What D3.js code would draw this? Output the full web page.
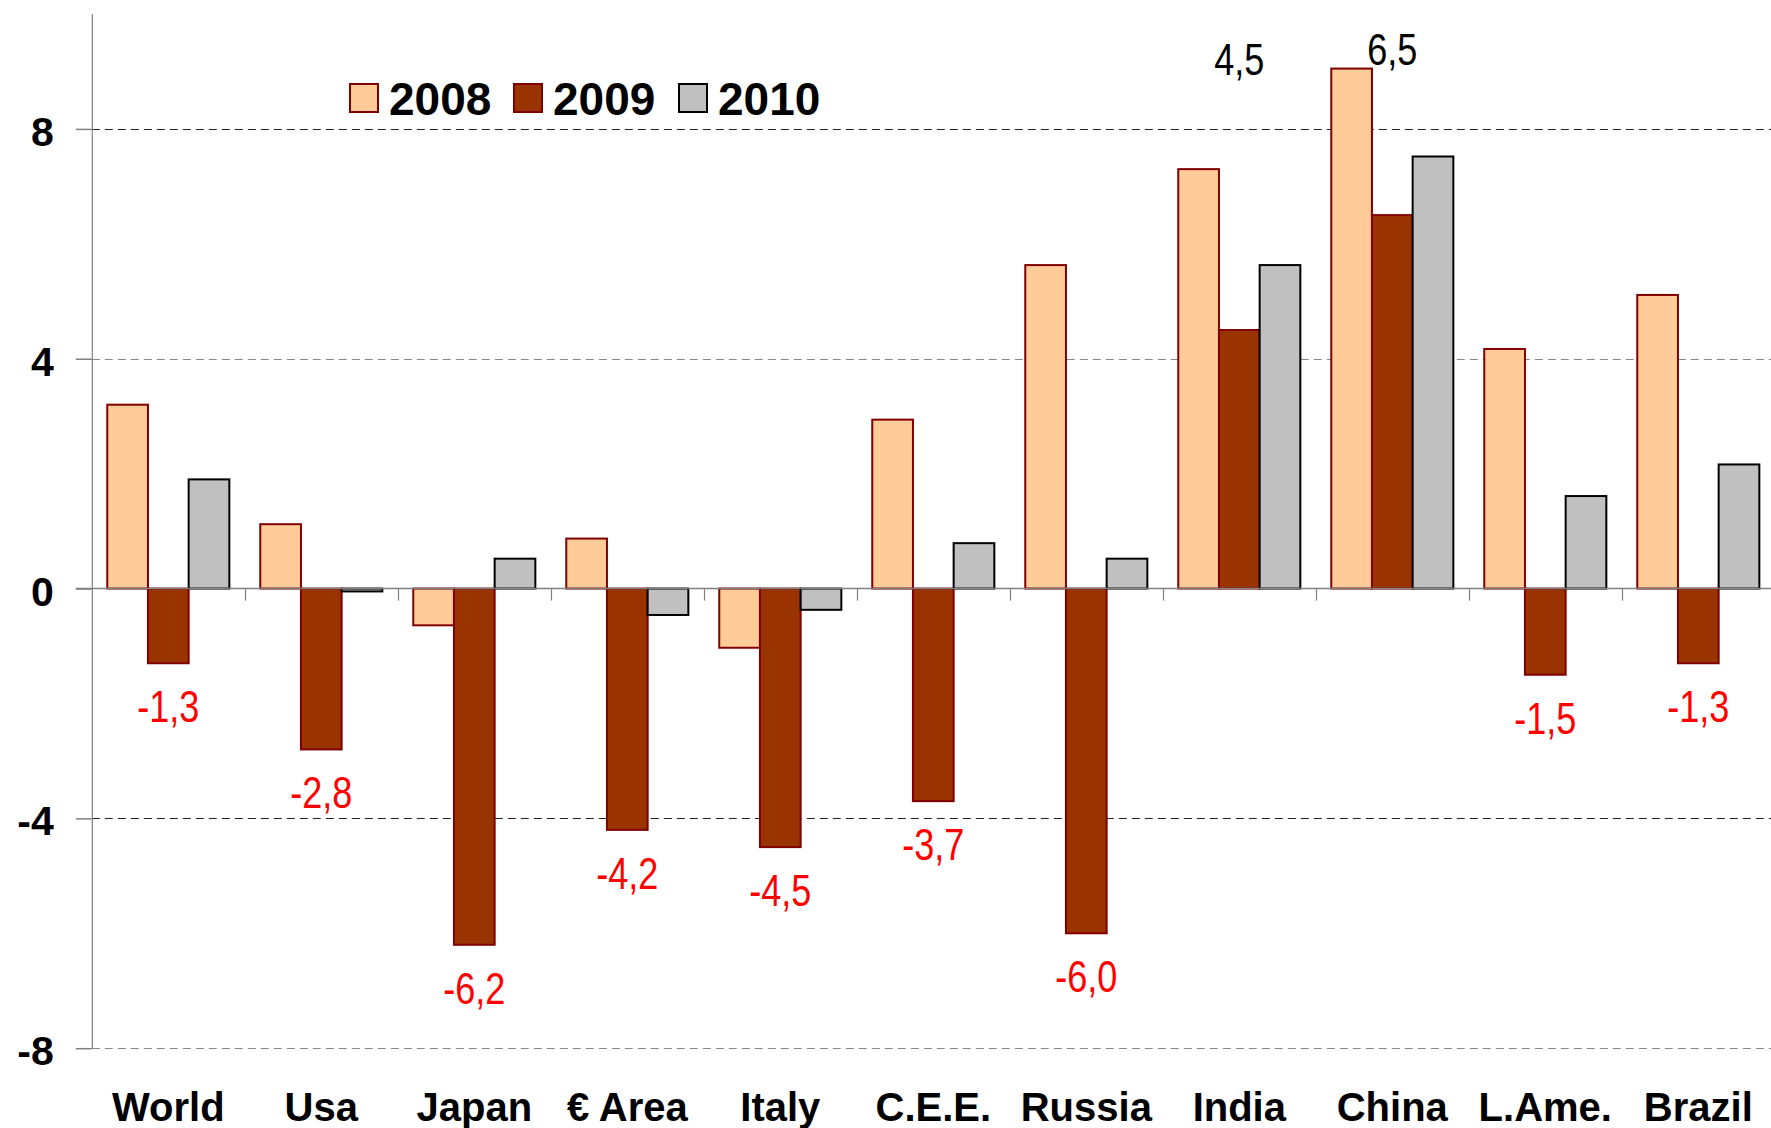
<!DOCTYPE html>
<html>
<head>
<meta charset="utf-8">
<script src="https://cdn.jsdelivr.net/npm/d3@7"></script>
<style>
  html, body { margin: 0; padding: 0; background: #fff; overflow: hidden; }
  svg { display: block; }
</style>
</head>
<body>
<svg id="chart" width="1771" height="1128"></svg>
<script>
// ---- Data ----
const categories = ["World", "Usa", "Japan", "€ Area", "Italy", "C.E.E.", "Russia", "India", "China", "L.Ame.", "Brazil"];
const seriesNames = ["2008", "2009", "2010"];
const values2008 = [3.2, 1.12, -0.64, 0.87, -1.03, 2.94, 5.63, 7.3, 9.05, 4.17, 5.11];
const values2009 = [-1.3, -2.8, -6.2, -4.2, -4.5, -3.7, -6.0, 4.5, 6.5, -1.5, -1.3];
const values2010 = [1.9, -0.05, 0.52, -0.46, -0.37, 0.79, 0.52, 5.63, 7.52, 1.61, 2.16];
const yTicks = [-8, -4, 0, 4, 8];

(function () {
// ---- Setup ----
const svg = d3.select("#chart");
const W = 1771, H = 1128;
const mLeft = 91.8, mTop = 14, mBottom = 1048.2;
const step = 153;

const x0 = d3.scaleBand().domain(categories).range([mLeft, mLeft + step * categories.length]).paddingInner(0).paddingOuter(0);
const x1 = d3.scaleBand().domain(seriesNames).range([0, x0.bandwidth()]).paddingInner(0).paddingOuter(0.38);
const y = d3.scaleLinear().domain([-8, 10]).range([mBottom, mTop]);

const seriesData = { "2008": values2008, "2009": values2009, "2010": values2010 };
const fills = { "2008": "#FFCC99", "2009": "#993300", "2010": "#C0C0C0" };
const strokes = { "2008": "#800000", "2009": "#800000", "2010": "#000000" };

// Font check for narrow font
function hasFont(name) {
  const t1 = svg.append("text").attr("font-family", `"${name}", monospace`).attr("font-size", 40).text("-1,3 4,5 6,5 abcdef");
  const t2 = svg.append("text").attr("font-family", `monospace`).attr("font-size", 40).text("-1,3 4,5 6,5 abcdef");
  const w1 = t1.node().getComputedTextLength(), w2 = t2.node().getComputedTextLength();
  t1.remove(); t2.remove();
  return Math.abs(w1 - w2) > 0.5;
}
const narrowOK = hasFont("Liberation Sans Narrow");
const narrowFamily = narrowOK ? '"Liberation Sans Narrow"' : '"Liberation Sans", Arial, sans-serif';
const narrowScale = narrowOK ? 1 : 0.82;

// ---- Gridlines ----
const gridColor = { "8": "#222", "4": "#888", "-4": "#222", "-8": "#888" };
svg.append("g").selectAll("line").data(yTicks.filter(d => d !== 0)).join("line")
  .attr("x1", mLeft).attr("x2", W)
  .attr("y1", d => Math.round(y(d)) + 0.5).attr("y2", d => Math.round(y(d)) + 0.5)
  .attr("stroke", d => gridColor[String(d)])
  .attr("stroke-width", 1)
  .attr("stroke-dasharray", "8,5");

// ---- Y axis ----
const yAxis = d3.axisLeft(y).tickValues(yTicks).tickSize(16).tickFormat(d => String(d));
const gy = svg.append("g").attr("transform", `translate(${mLeft},0)`).call(yAxis);
gy.select(".domain").attr("stroke", "#808080").attr("stroke-width", 1.2)
  .attr("d", `M0.5,${y(10)}V${y(-8)}`);
gy.selectAll(".tick line").attr("stroke", "#808080").attr("stroke-width", 1.5);
gy.selectAll(".tick text")
  .attr("x", -38).attr("dy", null).attr("y", 16.5)
  .attr("text-anchor", "end")
  .attr("font-family", '"Liberation Sans", Arial, sans-serif')
  .attr("font-weight", "bold").attr("font-size", 41).attr("fill", "#000");

// ---- Bars ----
const groups = svg.append("g").selectAll("g").data(categories).join("g")
  .attr("transform", d => `translate(${x0(d)},0)`);
groups.selectAll("rect")
  .data((c, i) => seriesNames.map(s => ({ s, v: seriesData[s][i] })))
  .join("rect")
  .attr("x", d => x1(d.s))
  .attr("width", x1.bandwidth())
  .attr("y", d => Math.min(y(d.v), y(0)))
  .attr("height", d => Math.abs(y(d.v) - y(0)))
  .attr("fill", d => fills[d.s])
  .attr("stroke", d => strokes[d.s])
  .attr("stroke-width", 2);

// ---- X axis (zero line) ----
const xAxis = d3.axisBottom(x0).tickSize(0).tickFormat("");
const gx = svg.append("g").attr("transform", `translate(0,${y(0)})`).call(xAxis);
gx.select(".domain").attr("stroke", "#808080").attr("stroke-width", 1.5)
  .attr("d", `M${mLeft - 16},0H${W}`);
// category separator ticks
svg.append("g").selectAll("line").data(categories.slice(1)).join("line")
  .attr("x1", d => Math.round(x0(d)) + 0.5).attr("x2", d => Math.round(x0(d)) + 0.5)
  .attr("y1", y(0)).attr("y2", y(0) + 12)
  .attr("stroke", "#808080").attr("stroke-width", 1.2);

// category labels
svg.append("g").selectAll("text").data(categories).join("text")
  .attr("x", d => x0(d) + x0.bandwidth() / 2)
  .attr("y", 1121)
  .attr("text-anchor", "middle")
  .attr("font-family", '"Liberation Sans", Arial, sans-serif')
  .attr("font-weight", "bold").attr("font-size", 40).attr("fill", "#000")
  .text(d => d);

// ---- Data labels for 2009 ----
const fmt = v => v.toFixed(1).replace(".", ",");
const posLabelBaseline = { "India": 75, "China": 65 };
svg.append("g").selectAll("text").data(categories).join("text")
  .attr("transform", (c, i) => {
    const v = values2009[i];
    const cx = x0(c) + x1("2009") + x1.bandwidth() / 2;
    const by = v < 0 ? y(v) + 59 : posLabelBaseline[c];
    return `translate(${cx},${by}) scale(${narrowScale},1)`;
  })
  .attr("text-anchor", "middle")
  .attr("font-family", narrowFamily)
  .attr("font-size", 44)
  .attr("fill", (c, i) => values2009[i] < 0 ? "#FF0000" : "#000000")
  .text((c, i) => fmt(values2009[i]));

// ---- Legend ----
const legendX = [350, 514, 679];
const lg = svg.append("g").selectAll("g").data(seriesNames).join("g")
  .attr("transform", (d, i) => `translate(${legendX[i]},84)`);
lg.append("rect").attr("x", 0).attr("y", 0).attr("width", 28).attr("height", 28)
  .attr("fill", d => fills[d]).attr("stroke", d => strokes[d]).attr("stroke-width", 2);
lg.append("text").attr("x", 39).attr("y", 30.5)
  .attr("font-family", '"Liberation Sans", Arial, sans-serif')
  .attr("font-weight", "bold").attr("font-size", 46).attr("fill", "#000")
  .text(d => d);
})();
</script>
</body>
</html>
